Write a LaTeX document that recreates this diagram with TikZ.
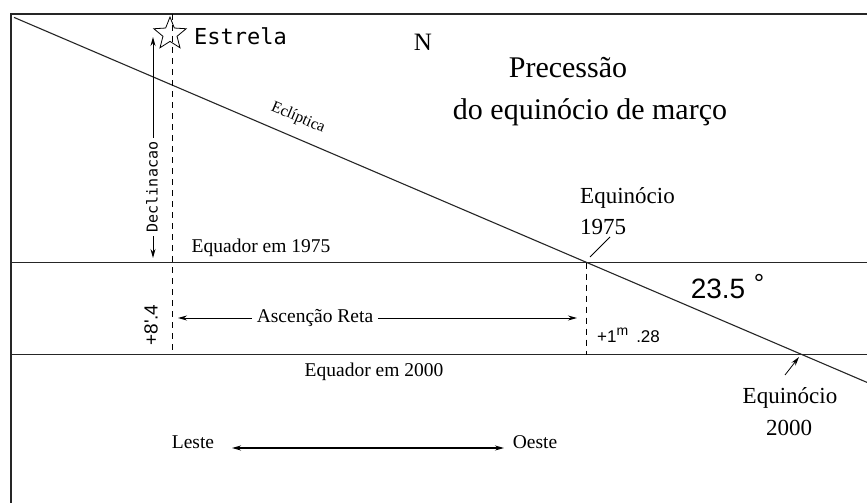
\documentclass[tikz,border=0pt]{standalone}
\usepackage{fontspec}
\setmainfont{Liberation Serif}
\newfontfamily\monof{DejaVu Sans Mono}
\newfontfamily\sansf{Liberation Sans}
\usetikzlibrary{arrows.meta,shapes.geometric}
\begin{document}
\begin{tikzpicture}[x=1pt,y=-1pt,
  frameline/.style={line width=1.4pt, draw=black!85},
  eqline/.style={line width=1.2pt, draw=black!85},
  ecline/.style={line width=1.1pt, draw=black!85},
  dashline/.style={line width=1pt, dash pattern=on 6pt off 5pt},
  arr/.style={line width=1pt, -{Stealth[length=9pt,width=5pt]}},
  dbl/.style={line width=1.2pt, {Stealth[length=9pt,width=5pt]}-{Stealth[length=9pt,width=5pt]}},
  txt/.style={inner sep=1pt, font=\fontsize{19.5}{22}\selectfont},
  ttl/.style={inner sep=1pt, font=\fontsize{30}{34}\selectfont},
  eqx/.style={inner sep=1pt, font=\fontsize{23}{26}\selectfont},
  mono/.style={inner sep=1pt, font=\monof\fontsize{22}{24}\selectfont},
  monosm/.style={inner sep=1pt, font=\monof\fontsize{15}{18}\selectfont},
  sanslbl/.style={inner sep=1pt, font=\sansf\fontsize{17}{19}\selectfont}]
\useasboundingbox[fill=white] (0,0) rectangle (867,503);

% frame
\coordinate (FB) at (11,503);
\coordinate (TL) at (11,14);
\coordinate (TR) at (867,14);
\draw[frameline] (FB) -- (TL) -- (TR);

% equator lines
\coordinate (EqAL) at (11,262.5);
\coordinate (EqAR) at (867,262.5);
\coordinate (EqBL) at (11,354.5);
\coordinate (EqBR) at (867,354.5);
\draw[eqline] (EqAL) -- (EqAR);
\draw[eqline] (EqBL) -- (EqBR);

% ecliptic
\coordinate (EcS) at (14,17.4);
\coordinate (EcE) at (867,382.4);
\coordinate (E75) at (586.7,262.5);
\coordinate (E00) at (801.7,354.5);
\draw[ecline] (EcS) -- (EcE);
\node[rotate=-23.2, inner sep=1pt, font=\fontsize{16}{18}\selectfont] (eclab) at (298,118) {Eclíptica};

% star and its dashed line
\coordinate (StarTop) at (172,14);
\coordinate (StarBot) at (172,354.5);
\draw[dashline] (StarTop) -- (StarBot);
\node[star, star points=5, star point ratio=2.3, draw, line width=0.8pt, minimum size=34pt, inner sep=0pt] (star) at (170,34) {};
\node[mono, anchor=west] (estrela) at (193,36) {Estrela};

% dashed line at equinox 1975
\draw[dashline] (E75) -- (E75 |- EqBL);

% declination
\coordinate (DecTop) at (153,37);
\coordinate (DecBot) at (153,258);
\node[monosm, rotate=90, fill=white, inner sep=4pt] (decl) at (152,187) {Declinacao};
\draw[arr] (decl.east -| DecTop) -- (DecTop);
\draw[arr] (decl.west -| DecBot) -- (DecBot);
\node[sanslbl, rotate=90, font=\sansf\fontsize{19}{21}\selectfont] (decval) at (151,325) {+8'.4};

% right ascension
\node[txt, fill=white, inner sep=5pt] (asc) at (315,318) {Ascenção Reta};
\coordinate (AscL) at (178,318);
\coordinate (AscR) at (577,318);
\draw[arr] (asc.west) -- (AscL);
\draw[arr] (asc.east) -- (AscR);
\node[sanslbl, anchor=west] (raval) at (596,335) {+1\raisebox{7pt}{\fontsize{14}{14}\selectfont m}\hspace{8pt}.28};

% labels of equators
\node[txt] (eq75) at (261,248) {Equador em 1975};
\node[txt] (eq00) at (374,372) {Equador em 2000};

% angle
\node[inner sep=1pt, font=\sansf\fontsize{28}{30}\selectfont] (ang) at (718,289) {23.5};
\node[inner sep=0pt, font=\sansf\fontsize{26}{28}\selectfont] (deg) at (759,283) {°};

% equinox 1975
\node[eqx, anchor=west] (eqx75a) at (579,198) {Equinócio};
\node[eqx, anchor=west] (eqx75b) at (579,227) {1975};
\coordinate (P75) at (610,237);
\coordinate (P75e) at (590,257);
\draw[line width=0.8pt] (P75) -- (P75e);

% equinox 2000
\node[eqx] (eqx00a) at (790,398) {Equinócio};
\node[eqx] (eqx00b) at (789,428) {2000};
\coordinate (P00) at (785,375);
\coordinate (P00e) at (799,357);
\draw[arr, line width=0.8pt] (P00) -- (P00e);

% titles
\node[inner sep=1pt, font=\fontsize{25}{28}\selectfont] (north) at (423,42) {N};
\node[ttl] (title1) at (568,68) {Precessão};
\node[ttl] (title2) at (590,112) {do equinócio de março};

% east-west
\node[txt] (leste) at (193,442) {Leste};
\node[txt] (oeste) at (535,442) {Oeste};
\coordinate (LA) at (232,448);
\coordinate (LB) at (504,448);
\draw[dbl] (LA) -- (LB);
\end{tikzpicture}
\end{document}
